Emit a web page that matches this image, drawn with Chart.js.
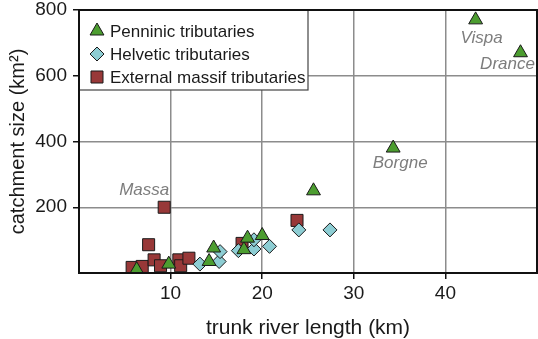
<!DOCTYPE html>
<html>
<head>
<meta charset="utf-8">
<script src="https://cdn.jsdelivr.net/npm/chart.js@4"></script>
<style>
  html, body { margin: 0; padding: 0; background: #fff; }
  #wrap { width: 538px; height: 339px; }
</style>
</head>
<body>
<div id="wrap"><canvas id="riverChart"></canvas></div>
<script>
// trunk river length (km) vs catchment size (km2)
const penninicLength = [6.3, 9.8, 14.2, 14.7, 18.0, 18.4, 20.0, 25.6, 34.3, 43.3, 48.2];
const penninicArea = [10, 27, 35, 76, 71, 106, 114, 250, 380, 770, 670];
const helveticLength = [13.2, 15.3, 15.4, 17.4, 19.1, 19.1, 20.8, 24.0, 27.4];
const helveticArea = [27, 35, 65, 68, 73, 101, 81, 131, 131];
const externalLength = [5.8, 6.9, 7.6, 8.2, 8.9, 9.3, 10.9, 11.1, 12.0, 17.8, 23.8];
const externalArea = [17, 20, 86, 40, 22, 200, 40, 22, 45, 90, 160];
const xTicks = [10, 20, 30, 40];
const yTicks = [200, 400, 600, 800];
const riverNames = ['Vispa', 'Drance', 'Borgne', 'Massa'];
const riverNameLength = [43.3, 48.2, 34.3, 9.3];
const riverNameArea = [770, 670, 380, 200];

const FONT = "'Liberation Sans', Arial, Helvetica, sans-serif";

function toPoints(xs, ys) {
  return xs.map((x, i) => ({ x: x, y: ys[i] }));
}

// no extra room for labels hanging past the plot edges
function noOverhang(s) {
  s.paddingTop = 0;
  s.paddingBottom = 0;
  s.paddingLeft = 0;
  s.paddingRight = 0;
}

// legend in a white box over the top-left corner of the plot
const boxLegend = {
  id: 'boxLegend',
  afterDatasetsDraw(chart) {
    const ctx = chart.ctx;
    const area = chart.chartArea;
    const x0 = area.left, y0 = area.top;
    ctx.save();
    ctx.fillStyle = '#fff';
    ctx.fillRect(x0, y0, 229, 80);
    ctx.strokeStyle = '#444';
    ctx.lineWidth = 1.2;
    ctx.strokeRect(x0, y0, 229, 80);
    ctx.font = '17px ' + FONT;
    ctx.textBaseline = 'middle';
    chart.data.datasets.forEach((ds, i) => {
      const cy = y0 + 21 + i * 23;
      ctx.fillStyle = ds.backgroundColor;
      ctx.strokeStyle = ds.borderColor;
      ctx.lineWidth = 1;
      Chart.helpers.drawPoint(ctx, {
        pointStyle: ds.pointStyle, radius: ds.pointRadius, borderWidth: 1, rotation: 0
      }, x0 + 18, cy);
      ctx.fillStyle = '#1a1a1a';
      ctx.fillText(ds.label, x0 + 31, cy + 1);
    });
    ctx.restore();
  }
};

// river names next to their points
const nameOffsets = { Vispa: [6, 18], Drance: [-13, 12], Borgne: [7, 15], Massa: [-20, -17] };
const riverLabels = {
  id: 'riverLabels',
  afterDatasetsDraw(chart) {
    const ctx = chart.ctx;
    const xs = chart.scales.x, ys = chart.scales.y;
    ctx.save();
    ctx.font = 'italic 17px ' + FONT;
    ctx.fillStyle = '#7d7d7d';
    ctx.textAlign = 'center';
    ctx.textBaseline = 'middle';
    riverNames.forEach((name, i) => {
      const off = nameOffsets[name];
      ctx.fillText(name, xs.getPixelForValue(riverNameLength[i]) + off[0],
        ys.getPixelForValue(riverNameArea[i]) + off[1]);
    });
    ctx.restore();
  }
};

// full black frame around the plot
const frame = {
  id: 'frame',
  afterDraw(chart) {
    const ctx = chart.ctx;
    const a = chart.chartArea;
    ctx.save();
    ctx.strokeStyle = '#111';
    ctx.lineWidth = 2;
    ctx.strokeRect(a.left, a.top, a.right - a.left, a.bottom - a.top);
    ctx.restore();
  }
};

const ctx = document.getElementById('riverChart').getContext('2d');
new Chart(ctx, {
  type: 'scatter',
  data: {
    datasets: [{
      label: 'Penninic tributaries',
      data: toPoints(penninicLength, penninicArea),
      pointStyle: 'triangle',
      pointRadius: 8,
      backgroundColor: '#4c9d30',
      borderColor: '#1a1a1a',
      borderWidth: 1
    }, {
      label: 'Helvetic tributaries',
      data: toPoints(helveticLength, helveticArea),
      pointStyle: 'rectRot',
      pointRadius: 7,
      backgroundColor: '#8dcdd3',
      borderColor: '#1a1a1a',
      borderWidth: 1
    }, {
      label: 'External massif tributaries',
      data: toPoints(externalLength, externalArea),
      pointStyle: 'rect',
      pointRadius: 8.5,
      backgroundColor: '#983838',
      borderColor: '#1a1a1a',
      borderWidth: 1
    }]
  },
  options: {
    responsive: true,
    maintainAspectRatio: false,
    animation: false,
    events: [],
    layout: { autoPadding: false, padding: { top: 10, right: 1, left: 0, bottom: 0 } },
    plugins: {
      legend: { display: false },
      tooltip: { enabled: false }
    },
    scales: {
      x: {
        type: 'linear',
        min: 0,
        max: 50,
        afterBuildTicks: s => { s.ticks = xTicks.map(v => ({ value: v })); },
        afterFit: s => { s.height = 66; noOverhang(s); },
        border: { display: false },
        grid: { color: '#8c8c8c', lineWidth: 1.5, tickLength: 6, tickColor: '#111', tickWidth: 1.5 },
        ticks: { font: { family: FONT, size: 19 }, color: '#1a1a1a', padding: 3, maxRotation: 0 },
        title: {
          display: true,
          text: 'trunk river length (km)',
          font: { family: FONT, size: 21, lineHeight: 1.05 },
          color: '#1a1a1a',
          padding: { top: 0, bottom: 0 }
        }
      },
      y: {
        type: 'linear',
        min: 0,
        max: 800,
        afterBuildTicks: s => { s.ticks = yTicks.map(v => ({ value: v })); },
        afterFit: s => { s.width = 79; noOverhang(s); },
        border: { display: false },
        grid: { color: '#8c8c8c', lineWidth: 1.5, tickLength: 6, tickColor: '#111', tickWidth: 1.5 },
        ticks: { font: { family: FONT, size: 19 }, color: '#1a1a1a', padding: 6 },
        title: {
          display: true,
          text: 'catchment size (km²)',
          font: { family: FONT, size: 20, lineHeight: 1.2 },
          color: '#1a1a1a',
          padding: { top: 6, bottom: 0 }
        }
      }
    }
  },
  plugins: [boxLegend, riverLabels, frame]
});
</script>
</body>
</html>
